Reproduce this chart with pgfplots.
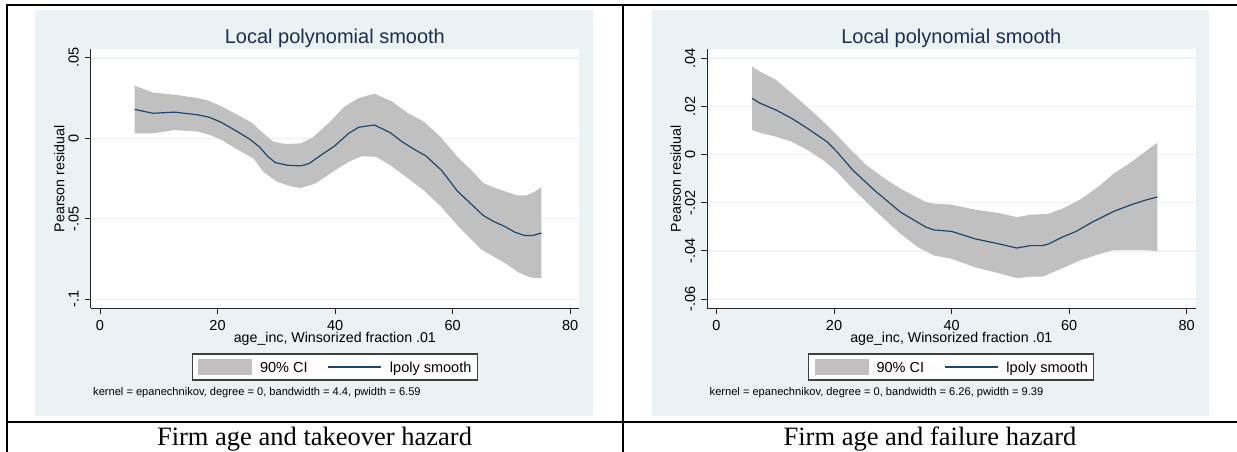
\documentclass[border=0pt]{standalone}
\usepackage{fontspec}
\setmainfont{Liberation Sans}
\newfontfamily\capfont{Liberation Serif}
\usepackage{pgfplots}
\usepackage{pgfplotstable}
\pgfplotsset{compat=1.18}

\definecolor{bgc}{RGB}{234,242,243}
\definecolor{cigray}{RGB}{192,192,192}
\definecolor{navyline}{RGB}{26,71,111}
\definecolor{titlec}{RGB}{28,45,85}

% ---------- takeover hazard ----------
\pgfplotstableread{
x y
5.9 0.0180
9.0 0.0156
12.7 0.0163
16.7 0.0146
18.7 0.0130
20.7 0.0098
23.1 0.0048
25.5 -0.0006
27.1 -0.0052
28.5 -0.0110
29.8 -0.0150
31.9 -0.0167
34.2 -0.0171
35.6 -0.0156
37.6 -0.0104
39.9 -0.0048
42.3 0.0031
44.0 0.0069
46.7 0.0083
49.4 0.0035
51.4 -0.0021
53.4 -0.0067
55.4 -0.0108
58.1 -0.0198
60.8 -0.0327
62.8 -0.0396
65.2 -0.0479
66.9 -0.0515
68.9 -0.0548
70.6 -0.0583
72.3 -0.0604
73.6 -0.0604
75.1 -0.0588
}\toLine
% 90% CI band: upper bound left to right, then lower bound right to left
\pgfplotstableread{
x y
5.9 0.0327
9.0 0.0285
12.7 0.0271
16.7 0.0250
18.4 0.0235
20.7 0.0198
23.4 0.0146
25.8 0.0098
27.8 0.0031
29.5 -0.0021
31.5 -0.0035
34.2 -0.0031
36.2 0.0006
38.9 0.0094
41.6 0.0198
44.0 0.0250
46.7 0.0277
49.7 0.0229
52.4 0.0156
55.1 0.0104
57.9 0.0010
60.8 -0.0115
63.2 -0.0198
65.2 -0.0277
67.2 -0.0308
69.2 -0.0333
70.9 -0.0354
72.6 -0.0354
73.9 -0.0333
75.1 -0.0302
75.1 -0.0869
73.3 -0.0865
71.2 -0.0833
69.2 -0.0781
67.2 -0.0740
64.8 -0.0688
61.1 -0.0552
58.1 -0.0427
55.1 -0.0323
52.1 -0.0240
49.4 -0.0167
47.0 -0.0115
44.6 -0.0110
42.3 -0.0146
39.6 -0.0208
36.6 -0.0281
34.2 -0.0308
32.9 -0.0302
30.2 -0.0271
27.8 -0.0208
26.1 -0.0125
23.1 -0.0063
20.7 -0.0010
18.7 0.0021
16.7 0.0042
12.7 0.0052
9.0 0.0031
5.9 0.0031
}\toCI

% ---------- failure hazard ----------
\pgfplotstableread{
x y
6.05 0.0233
7.4 0.0213
10.1 0.0185
12.8 0.0150
15.5 0.0108
18.8 0.0053
20.5 0.0011
23.2 -0.0065
26.9 -0.0149
31.3 -0.0239
35.6 -0.0301
37.0 -0.0313
40.0 -0.0319
44.0 -0.0350
48.1 -0.0371
51.1 -0.0388
53.4 -0.0378
55.5 -0.0378
56.5 -0.0371
58.8 -0.0343
61.2 -0.0319
63.9 -0.0281
67.6 -0.0236
70.6 -0.0208
72.9 -0.0190
75.0 -0.0176
}\faLine
\pgfplotstableread{
x y
6.05 0.0365
7.4 0.0344
10.1 0.0310
12.8 0.0254
15.5 0.0196
18.2 0.0136
20.5 0.0081
22.9 0.0018
25.5 -0.0044
28.2 -0.0093
31.3 -0.0142
35.6 -0.0197
37.0 -0.0204
40.0 -0.0208
44.0 -0.0229
48.1 -0.0243
51.1 -0.0260
53.4 -0.0250
56.5 -0.0246
59.2 -0.0221
61.8 -0.0188
64.9 -0.0135
67.6 -0.0079
70.6 -0.0031
72.9 0.0011
75.0 0.0049
75.0 -0.0401
72.9 -0.0396
70.6 -0.0396
67.6 -0.0396
64.9 -0.0415
61.8 -0.0440
59.2 -0.0468
55.5 -0.0507
53.4 -0.0507
51.1 -0.0513
48.1 -0.0493
44.0 -0.0468
40.0 -0.0433
37.0 -0.0419
34.3 -0.0385
31.3 -0.0329
28.2 -0.0260
25.5 -0.0197
22.9 -0.0135
20.5 -0.0072
18.2 -0.0024
15.5 0.0018
12.8 0.0053
10.1 0.0074
7.4 0.0090
6.05 0.0101
}\faCI

\pgfplotsset{
  stata/.style={
    width=488.3pt, height=259.3pt, scale only axis,
    anchor=south west,
    axis lines=left,
    axis line style={-, black!85, line width=1pt},
    axis background/.style={fill=white},
    xmin=-1.58, xmax=81.5,
    xtick={0,20,40,60,80}, xticklabels={0,20,40,60,80},
    scaled y ticks=false, scaled x ticks=false,
    tick align=outside, major tick length=6pt,
    tick style={black!85, line width=0.9pt},
    ymajorgrids, grid style={bgc, line width=1.3pt},
    tick label style={font=\fontsize{14.5}{17}\selectfont},
    label style={font=\fontsize{14.2}{17}\selectfont},
    xticklabel style={anchor=base, inner sep=0pt, yshift=-16.5pt},
    yticklabel style={xshift=-6pt, rotate=90, anchor=base, inner sep=0pt},
    title={Local polynomial smooth},
    title style={font=\fontsize{20}{24}\selectfont, color=titlec, at={(axis description cs:0.5,1)}, anchor=base},
    xlabel={age\_inc, Winsorized fraction .01},
    xlabel style={at={(axis description cs:0.5,-0.133)}, anchor=base},
    ylabel={Pearson residual},
    ylabel style={at={(axis description cs:-0.0539,0.5)}, anchor=base},
    legend columns=2,
    legend style={at={(axis description cs:0.5,-0.1735)}, anchor=north,
      draw=black!75, line width=1.2pt, fill=white,
      inner xsep=6pt, inner ysep=5pt,
      font=\fontsize{14.5}{16}\selectfont,
      nodes={inner sep=0pt},
      /tikz/every odd column/.append style={column sep=8pt},
      /tikz/every even column/.append style={column sep=20pt}},
    legend cell align=left,
  },
  ciarea/.style={fill=cigray, draw=none, legend image code/.code={\fill[cigray] (0pt,-6.6pt) rectangle (53.7pt,9.4pt);}},
  smline/.style={navyline, line width=1.2pt, legend image code/.code={\draw[navyline, line width=1.2pt] (0pt,1.4pt) -- (53.2pt,1.4pt);}},
}

\begin{document}
\begin{tikzpicture}
\fill[bgc] (35pt,36.3pt) rectangle (593pt,442pt);
\fill[bgc] (652pt,36.3pt) rectangle (1209.3pt,442pt);
\draw[line width=2pt] (6pt,447pt) -- (1237pt,447pt);
\draw[line width=2pt] (6pt,30pt) -- (1237pt,30pt);
\draw[line width=2pt] (7pt,0pt) -- (7pt,448pt);
\draw[line width=2pt] (623.3pt,0pt) -- (623.3pt,448pt);

\begin{axis}[stata, at={(90.7pt,143.5pt)},
  ymin=-0.1057, ymax=0.0554,
  ytick={-0.1,-0.05,0,0.05}, yticklabels={-.1,-.05,0,.05}]
  \addplot[ciarea] table[x=x,y=y]{\toCI} -- cycle;
  \addlegendentry{90\% CI}
  \addplot[smline] table[x=x,y=y]{\toLine};
  \addlegendentry{lpoly smooth}
\end{axis}

\begin{axis}[stata, at={(707.2pt,143.5pt)},
  ymin=-0.0639, ymax=0.0437,
  ytick={-0.06,-0.04,-0.02,0,0.02,0.04}, yticklabels={-.06,-.04,-.02,0,.02,.04}]
  \addplot[ciarea] table[x=x,y=y]{\faCI} -- cycle;
  \addlegendentry{90\% CI}
  \addplot[smline] table[x=x,y=y]{\faLine};
  \addlegendentry{lpoly smooth}
\end{axis}

\node[anchor=base west, inner sep=0pt, font=\fontsize{11.1}{13}\selectfont] at (93pt,56.5pt) {kernel = epanechnikov, degree = 0, bandwidth = 4.4, pwidth = 6.59};
\node[anchor=base west, inner sep=0pt, font=\fontsize{11.1}{13}\selectfont] at (709.5pt,56.5pt) {kernel = epanechnikov, degree = 0, bandwidth = 6.26, pwidth = 9.39};

\node[anchor=base, inner sep=0pt, font=\capfont\fontsize{26.5}{30}\selectfont] at (314.5pt,6pt) {Firm age and takeover hazard};
\node[anchor=base, inner sep=0pt, font=\capfont\fontsize{26.5}{30}\selectfont] at (930pt,6pt) {Firm age and failure hazard};
\pgfresetboundingbox
\useasboundingbox (0pt,0pt) rectangle (1237pt,452pt);
\end{tikzpicture}
\end{document}
